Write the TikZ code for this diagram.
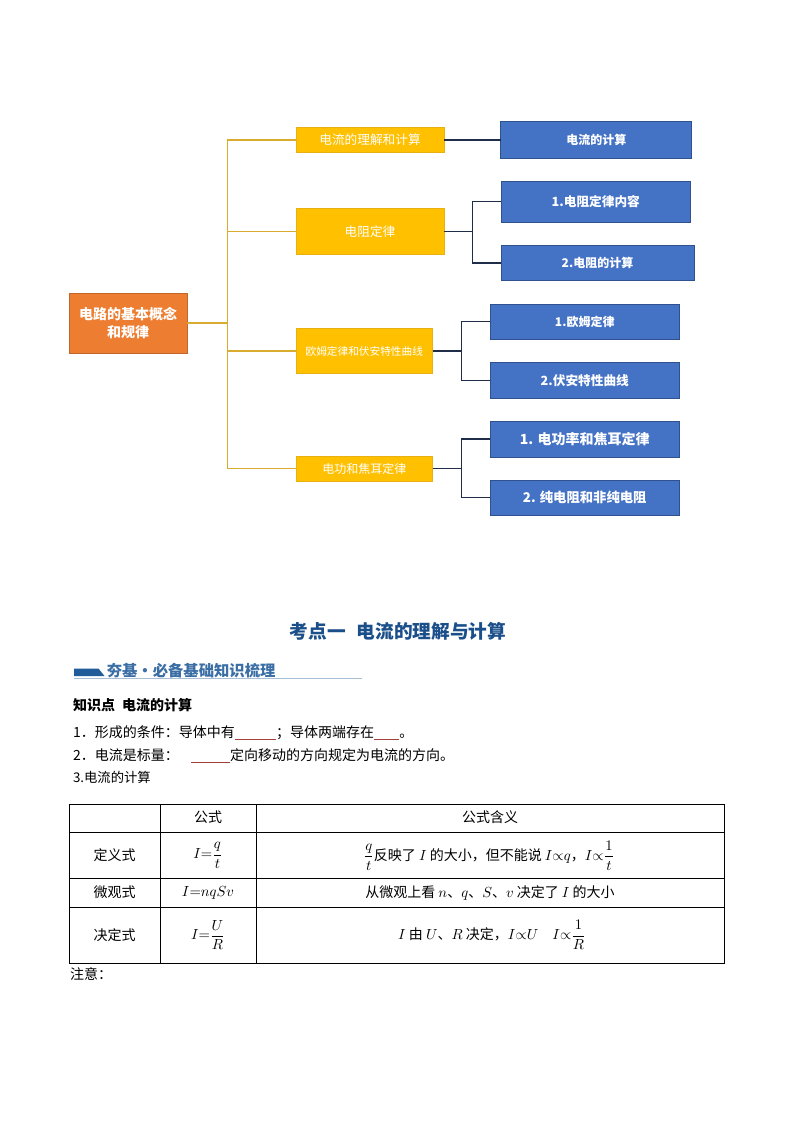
\documentclass[tikz,border=0pt]{standalone}
\usepackage{fontspec}
\setmainfont{Noto Sans CJK SC}
\usepackage{amsmath}
\definecolor{rootfill}{HTML}{ED7D31}
\definecolor{rootborder}{HTML}{C0662A}
\definecolor{yfill}{HTML}{FFC000}
\definecolor{yborder}{HTML}{E8B010}
\definecolor{ylinec}{HTML}{D9AC30}
\definecolor{bfill}{HTML}{4472C4}
\definecolor{bborder}{HTML}{2F528F}
\definecolor{blinec}{HTML}{1F2D4A}
\definecolor{headc}{HTML}{1B4F8A}
\definecolor{bannerc}{HTML}{1F5C99}
\definecolor{bannertext}{HTML}{3A6EA5}
\definecolor{bannerline}{HTML}{A8BDD6}
\definecolor{blankc}{HTML}{A0403A}
\newcommand{\myblank}[1]{{\color{blankc}\rule[-2pt]{#1}{0.7pt}}}
\begin{document}
\begin{tikzpicture}[x=0.75pt,y=-0.75pt,
  rootbox/.style={draw=rootborder, fill=rootfill, text=white, align=center, inner sep=0pt, outer sep=0pt, line width=0.75pt},
  ybox/.style={draw=yborder, fill=yfill, text=white, inner sep=0pt, outer sep=0pt, line width=0.6pt},
  bbox/.style={draw=bborder, fill=bfill, text=white, inner sep=0pt, outer sep=0pt, line width=0.75pt},
  yline/.style={draw=ylinec, line width=0.9pt},
  bline/.style={draw=blinec, line width=0.9pt},
  txt/.style={inner sep=0pt, outer sep=0pt, anchor=west, font=\fontsize{10.5}{12}\selectfont},
  tab/.style={inner sep=0pt, outer sep=0pt, font=\fontsize{10.5}{12}\selectfont},
  tline/.style={draw=black, line width=0.7pt}
]
\fill[white] (0,0) rectangle (794,1123);
\useasboundingbox (0,0) rectangle (794,1123);

% ---------- mind map ----------
\node[rootbox, minimum width=88.5pt, minimum height=45pt, font=\bfseries\fontsize{10.5}{13.5}\selectfont] (root) at (128,323) {电路的基本概念\\和规律};

\node[ybox, minimum width=111pt, minimum height=18.75pt, font=\fontsize{9.5}{11}\selectfont] (y1) at (370,140) {电流的理解和计算};
\node[ybox, minimum width=111pt, minimum height=34.5pt, font=\fontsize{9.5}{11}\selectfont] (y2) at (370,231.5) {电阻定律};
\node[ybox, minimum width=102.4pt, minimum height=33.75pt, font=\fontsize{8}{10}\selectfont] (y3) at (364.25,351) {欧姆定律和伏安特性曲线};
\node[ybox, minimum width=102.4pt, minimum height=19.1pt, font=\fontsize{9}{11}\selectfont] (y4) at (364.25,468.75) {电功和焦耳定律};

\node[bbox, minimum width=142.9pt, minimum height=27.75pt, font=\bfseries\fontsize{9}{11}\selectfont] (b1) at (596.25,140) {电流的计算};
\node[bbox, minimum width=142.1pt, minimum height=31.1pt, font=\bfseries\fontsize{9.5}{11}\selectfont] (b2) at (595.75,201.75) {1.电阻定律内容};
\node[bbox, minimum width=144.75pt, minimum height=26.25pt, font=\bfseries\fontsize{9}{11}\selectfont] (b3) at (597.5,263) {2.电阻的计算};
\node[bbox, minimum width=142.1pt, minimum height=26.6pt, font=\bfseries\fontsize{9}{11}\selectfont] (b4) at (584.75,321.75) {1.欧姆定律};
\node[bbox, minimum width=142.1pt, minimum height=27pt, font=\bfseries\fontsize{9.5}{11}\selectfont] (b5) at (584.75,380.5) {2.伏安特性曲线};
\node[bbox, minimum width=142.1pt, minimum height=27pt, font=\bfseries\fontsize{10.5}{12}\selectfont] (b6) at (584.75,439) {1. 电功率和焦耳定律};
\node[bbox, minimum width=142.1pt, minimum height=26.25pt, font=\bfseries\fontsize{10}{12}\selectfont] (b7) at (584.75,497.5) {2. 纯电阻和非纯电阻};

\coordinate (trunk) at (227.5,323);
\draw[yline] (root.east) -- (trunk);
\draw[yline] (trunk) |- (y1.west);
\draw[yline] (trunk) |- (y2.west);
\draw[yline] (trunk) |- (y3.west);
\draw[yline] (trunk) |- (y4.west);

\draw[bline] (y1.east) -- (b1.west);
\draw[bline] (y2.east) -- ++(28.5,0) |- (b2.west);
\draw[bline] (y2.east) -- ++(28.5,0) |- (b3.west);
\draw[bline] (y3.east) -- ++(29,0) |- (b4.west);
\draw[bline] (y3.east) -- ++(29,0) |- (b5.west);
\draw[bline] (y4.east) -- ++(29,0) |- (b6.west);
\draw[bline] (y4.east) -- ++(29,0) |- (b7.west);

% ---------- heading ----------
\node[inner sep=0pt, text=headc, font=\bfseries\fontsize{14}{16}\selectfont] (head) at (398,631) {考点一\hspace{0.6em}电流的理解与计算};

% banner
\fill[bannerc] (74,668.5) -- (98.5,668.5) -- (104.5,676) -- (74,676) -- cycle;
\draw[bannerline, line width=0.8pt] (74,678.5) -- (362,678.5);
\node[inner sep=0pt, anchor=west, text=bannertext, font=\bfseries\fontsize{11.5}{13}\selectfont] (banner) at (106.5,671) {夯基·必备基础知识梳理};

% ---------- body text ----------
\node[txt, font=\bfseries\fontsize{10.5}{12}\selectfont] (k0) at (73,705) {知识点\hspace{0.5em}电流的计算};
\node[txt] (k1) at (73,733) {1．形成的条件：导体中有\myblank{31pt}；导体两端存在\myblank{19pt}。};
\node[txt] (k2) at (73,755.5) {2．电流是标量：\hspace{0.9em}\myblank{29pt}定向移动的方向规定为电流的方向。};
\node[txt, font=\fontsize{10}{12}\selectfont] (k3) at (73,777) {3.电流的计算};

% ---------- table ----------
\draw[tline] (69.5,804) rectangle (724.5,963.5);
\draw[tline] (69.5,832.5) -- (724.5,832.5);
\draw[tline] (69.5,878.5) -- (724.5,878.5);
\draw[tline] (69.5,907.5) -- (724.5,907.5);
\draw[tline] (160,804) -- (160,963.5);
\draw[tline] (256.5,804) -- (256.5,963.5);

\node[tab] (h2) at (208,817.5) {公式};
\node[tab] (h3) at (490,817.5) {公式含义};

\node[tab] (r1a) at (114.5,855.5) {定义式};
\node[tab] (r1b) at (208,855.5) {$I{=}\dfrac{q}{t}$};
\node[tab] (r1c) at (489,855.5) {$\dfrac{q}{t}$反映了 $I$ 的大小，但不能说 $I{\propto}q$，$I{\propto}\dfrac{1}{t}$};

\node[tab] (r2a) at (114.5,892.5) {微观式};
\node[tab] (r2b) at (208,892.5) {$I{=}nqSv$};
\node[tab] (r2c) at (490,892.5) {从微观上看 $n$、$q$、$S$、$v$ 决定了 $I$ 的大小};

\node[tab] (r3a) at (114.5,935) {决定式};
\node[tab] (r3b) at (208,935) {$I{=}\dfrac{U}{R}$};
\node[tab] (r3c) at (492,935) {$I$ 由 $U$、$R$ 决定，$I{\propto}U$\quad $I{\propto}\dfrac{1}{R}$};

\node[txt, font=\fontsize{10.5}{12}\selectfont] (note) at (70,974) {注意：};
\end{tikzpicture}
\end{document}
